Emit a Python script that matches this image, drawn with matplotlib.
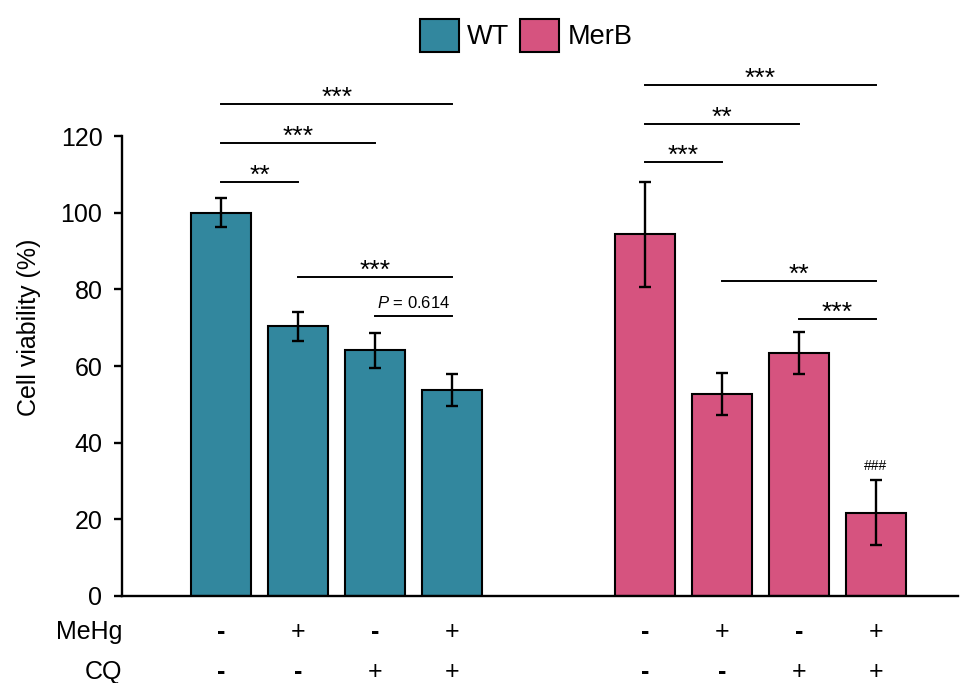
import numpy as np
import matplotlib.pyplot as plt
import matplotlib.transforms as mtransforms
from matplotlib.patches import Patch

plt.rcParams['font.family'] = ['Liberation Sans', 'DejaVu Sans']
plt.rcParams['mathtext.fontset'] = 'custom'
plt.rcParams['mathtext.it'] = 'Liberation Sans:italic'
plt.rcParams['mathtext.rm'] = 'Liberation Sans'

groups = ['WT', 'MerB']
wt_vals = [100.0, 70.4, 64.1, 53.7]
wt_err = [3.7, 3.8, 4.6, 4.2]
merb_vals = [94.4, 52.7, 63.4, 21.7]
merb_err = [13.7, 5.5, 5.6, 8.5]
mehg = ['-', '+', '-', '+']
cq = ['-', '-', '+', '+']
colors = ['#32879E', '#D6537F']

# significance brackets: (group, from bar, to bar, height, label)
brackets = [
    (0, 0, 1, 108, '**'),
    (0, 0, 2, 118.2, '***'),
    (0, 0, 3, 128.4, '***'),
    (0, 1, 3, 83.2, '***'),
    (0, 2, 3, 73.0, r'$P$ = 0.614'),
    (1, 0, 1, 113.2, '***'),
    (1, 0, 2, 123.1, '**'),
    (1, 0, 3, 133.3, '***'),
    (1, 1, 3, 82.2, '**'),
    (1, 2, 3, 72.3, '***'),
]

fs = 18

fig = plt.figure(figsize=(9.6, 6.83), dpi=100)
ax = fig.add_axes([0.127, 0.1274, 0.871, 0.7857])

pos = [np.arange(4), np.arange(4) + 5.5]
for g, (vals, err) in enumerate([(wt_vals, wt_err), (merb_vals, merb_err)]):
    ax.bar(pos[g], vals, width=0.78, color=colors[g], edgecolor='black',
           linewidth=1.5, zorder=2)
    ax.errorbar(pos[g], vals, yerr=err, fmt='none', ecolor='black',
                elinewidth=1.7, capsize=4.5, capthick=1.7, zorder=3)

for g, a, b, h, lab in brackets:
    x0, x1 = pos[g][a], pos[g][b]
    ax.plot([x0, x1], [h, h], color='black', lw=1.4, clip_on=False)
    if lab.startswith('$P'):
        ax.text((x0 + x1) / 2, h + 1.3, lab, ha='center', va='bottom',
                fontsize=12, clip_on=False)
    else:
        ax.text((x0 + x1) / 2, h - 1.6, lab, ha='center', va='bottom',
                fontsize=19, clip_on=False)

ax.text(pos[1][3], merb_vals[3] + merb_err[3] + 2, '###', ha='center',
        va='bottom', fontsize=10)

ax.set_xlim(-1.29, 9.57)
ax.set_ylim(0, 140)
ax.set_yticks(np.arange(0, 121, 20))
ax.spines['left'].set_bounds(0, 120)
ax.spines['top'].set_visible(False)
ax.spines['right'].set_visible(False)
ax.spines['left'].set_linewidth(1.7)
ax.spines['bottom'].set_linewidth(1.7)
ax.tick_params(axis='y', labelsize=fs, width=1.7, length=6, pad=8)
ax.set_xticks([])
ax.set_ylabel('Cell viability (%)', fontsize=fs, labelpad=14)

trans = mtransforms.blended_transform_factory(ax.transAxes, ax.transData)
for row, (name, signs) in enumerate([('MeHg', mehg), ('CQ', cq)]):
    y = -9.4 - 10.4 * row
    ax.text(0.0, y, name, transform=trans, ha='right', va='center',
            fontsize=fs, clip_on=False)
    for g in range(2):
        for x, s in zip(pos[g], signs):
            ax.text(x, y, s, ha='center', va='center', fontsize=fs,
                    fontweight='bold' if s == '-' else 'normal', clip_on=False)

handles = [Patch(facecolor=colors[i], edgecolor='black', linewidth=1.5,
                 label=groups[i]) for i in range(2)]
fig.legend(handles=handles, loc='upper center', bbox_to_anchor=(0.548, 1.008),
           ncol=2, frameon=False, fontsize=19.5, handlelength=1.45,
           handleheight=1.5, handletextpad=0.3, columnspacing=0.4)

fig.savefig('out.png', dpi=100)
